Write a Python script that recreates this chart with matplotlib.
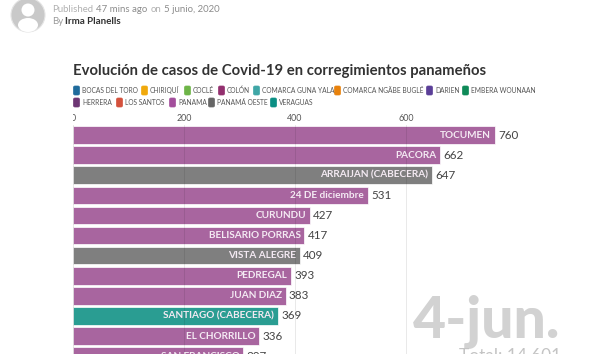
import matplotlib
matplotlib.use("Agg")
import matplotlib.pyplot as plt
from matplotlib.patches import Circle, Ellipse, FancyBboxPatch
from matplotlib.transforms import Bbox

W, H = 590, 354
plt.rcParams['font.family'] = ['Lato', 'DejaVu Sans']

names = ["TOCUMEN", "PACORA", "ARRAIJAN (CABECERA)", "24 DE diciembre", "CURUNDU",
         "BELISARIO PORRAS", "VISTA ALEGRE", "PEDREGAL", "JUAN DIAZ",
         "SANTIAGO (CABECERA)", "EL CHORRILLO", "SAN FRANCISCO"]
values = [760, 662, 647, 531, 427, 417, 409, 393, 383, 369, 336, 307]
regions = ["PANAMA", "PANAMA", "PANAMA OESTE", "PANAMA", "PANAMA", "PANAMA",
           "PANAMA OESTE", "PANAMA", "PANAMA", "VERAGUAS", "PANAMA", "PANAMA"]
region_colors = {"PANAMA": "#a8659f", "PANAMA OESTE": "#7f7f7f", "VERAGUAS": "#2a9d92"}
ticks = [0, 200, 400, 600]

legend_row1 = [("BOCAS DEL TORO", "#1f6b9c", 73), ("CHIRIQUÍ", "#f0a90c", 141), ("COCLÉ", "#6eb548", 184),
               ("COLÓN", "#93306f", 218), ("COMARCA GUNA YALA", "#3fa6a6", 253),
               ("COMARCA NGÄBE BUGLÉ", "#e8820c", 334), ("DARIEN", "#5b3f98", 426),
               ("EMBERA WOUNAAN", "#0e8a58", 462)]
legend_row2 = [("HERRERA", "#6d3674", 73), ("LOS SANTOS", "#d4513c", 116), ("PANAMA", "#a34e9c", 169),
               ("PANAMÁ OESTE", "#666666", 208), ("VERAGUAS", "#0b8f84", 270)]

fig = plt.figure(figsize=(W / 100, H / 100), dpi=100, facecolor="white")

page = fig.add_axes([0, 0, 1, 1], zorder=3)
page.set_xlim(0, W); page.set_ylim(H, 0); page.axis("off"); page.patch.set_alpha(0)

page.add_patch(Circle((28, 15), 17, fc="#c9c9c9", ec="#e4e4e4", lw=0.8))
page.add_patch(Circle((28, 10), 6.5, fc="white", ec="none"))
page.add_patch(Ellipse((28, 25), 20, 14, fc="white", ec="none"))

fs = 6.9
page.text(52, 9, "Published", fontsize=fs, color="#b0b0b0", va="center")
page.text(96, 9, "47 mins ago", fontsize=fs, color="#8c8c8c", va="center")
page.text(151, 9, "on", fontsize=fs, color="#b0b0b0", va="center")
page.text(164, 9, "5 junio, 2020", fontsize=fs, color="#8c8c8c", va="center")
page.text(52, 22, "By", fontsize=fs, color="#9a9a9a", va="center")
page.text(65, 22, "Irma Planells", fontsize=7.1, color="#333333", va="center", fontweight="bold")

page.text(73, 71, "Evolución de casos de Covid-19 en corregimientos panameños",
          fontsize=10.7, color="#333333", va="center", fontweight="bold")

for row, y in ((legend_row1, 90.5), (legend_row2, 102.5)):
    for label, col, x in row:
        page.add_patch(FancyBboxPatch((x + 0.5, y - 4.5), 6, 9, boxstyle="round,pad=0,rounding_size=1.5",
                                      mutation_aspect=1, fc=col, ec=col, lw=0.5))
        page.text(x + 9, y, label, fontsize=4.75, color="#555555", va="center")

page.text(560, 338, "4-jun.", fontsize=41, color="#d2d2d2", va="baseline", ha="right", fontweight="black")
page.text(561, 361, "Total: 14.601", fontsize=12.5, color="#c4c4c4", va="baseline", ha="right")

left, right, top, bottom = 73, 517, 125, 354
ax = fig.add_axes([left / W, 1 - bottom / H, (right - left) / W, (bottom - top) / H], zorder=2)
ax.patch.set_alpha(0)
ax.set_xlim(0, 800)
row_h = 20.1
ax.set_ylim((bottom - top) / row_h - 0.5, -0.5)
ax.barh(range(len(values)), values, height=0.88,
        color=[region_colors[r] for r in regions], edgecolor="white", linewidth=0.5, zorder=2)
for i, (n, v) in enumerate(zip(names, values)):
    ax.text(v - 7, i, n, ha="right", va="center", color="#f4eaf3", fontsize=7.2,
            fontweight="bold", clip_on=True, zorder=3)
    ax.text(v + 6, i, str(v), ha="left", va="center", color="#444444", fontsize=8.4, zorder=3)

ax.set_xticks(ticks)
ax.xaxis.tick_top()
ax.tick_params(axis="x", length=0, pad=1.5, labelsize=6.4, labelcolor="#555555")
ax.set_yticks([])
ax.grid(axis="x", color="#000000", alpha=0.09, lw=0.7, zorder=4)
ax.set_axisbelow(False)
for s in ax.spines.values():
    s.set_visible(False)
zero = ax.get_xticklabels()[0]
zero.set_clip_on(True)
zero.set_clip_box(Bbox([[left, 0], [W, H]]))

fig.savefig("out.png", dpi=100, facecolor="white")
